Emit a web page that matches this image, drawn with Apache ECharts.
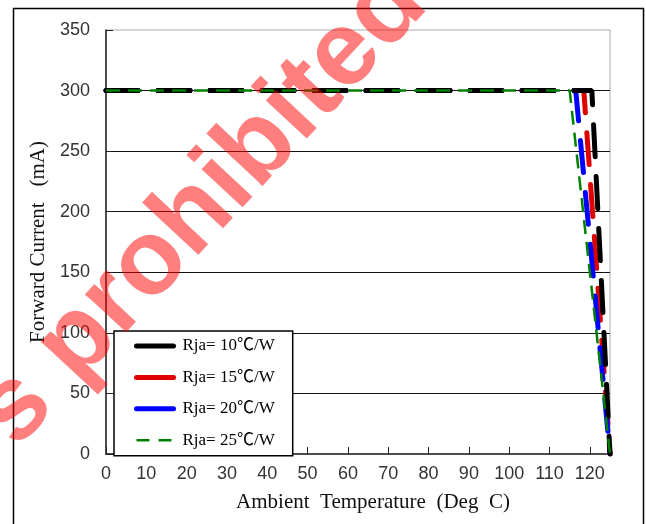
<!DOCTYPE html>
<html>
<head>
<meta charset="utf-8">
<script src="https://cdn.jsdelivr.net/npm/echarts@6/dist/echarts.min.js"></script>
<style>
  html, body { margin: 0; padding: 0; background: #fff; }
  #chart { width: 646px; height: 524px; }
</style>
</head>
<body>
<div id="chart"></div>
<script>
// Derating curves: forward current vs ambient temperature for four Rja values
const seriesNames = ['Rja= 10℃/W', 'Rja= 15℃/W', 'Rja= 20℃/W', 'Rja= 25℃/W'];

// Ambient temperature breakpoints (°C) for each curve
const tempRja10 = [0, 120.5, 125];
const tempRja15 = [0, 118.5, 125];
const tempRja20 = [0, 116.5, 125];
const tempRja25 = [0, 115, 125];

// Forward current (mA) at those breakpoints
const currentMa = [300, 300, 0];

const seriesColors = ['#000000', '#e00000', '#0000ff', '#008000'];
// drawing order: black dashes sit above red and blue, thin green on top
const seriesZ = [4, 2, 3, 5];

const serifFont = "'Liberation Serif', 'Times New Roman', 'Noto Sans CJK SC', serif";
const sansFont = "'Liberation Sans', Arial, sans-serif";

function pairs(xs, ys) {
  return xs.map((x, i) => [x, ys[i]]);
}

const temps = [tempRja10, tempRja15, tempRja20, tempRja25];

const series = temps.map((t, i) => {
  const thinDashed = i === 3;
  return {
    name: seriesNames[i],
    type: 'line',
    data: pairs(t, currentMa),
    symbol: 'none',
    z: seriesZ[i],
    itemStyle: { color: seriesColors[i] },
    lineStyle: thinDashed
      ? { color: seriesColors[i], width: 2.5, type: [14, 8] }
      : { color: seriesColors[i], width: 5, type: [32, 20], cap: 'round' }
  };
});

const legendItems = seriesNames.map((n, i) => (i < 3
  ? { name: n, lineStyle: { type: 'solid', width: 5, cap: 'round' } }
  : { name: n, lineStyle: { type: [13, 9], width: 2.5 } }));

const chart = echarts.init(document.getElementById('chart'), null, { renderer: 'canvas' });

chart.setOption({
  animation: false,
  backgroundColor: '#ffffff',
  grid: {
    left: 106, right: 36, top: 30, bottom: 70,
    show: true, borderColor: '#aaaaaa', borderWidth: 1
  },
  xAxis: {
    type: 'value',
    min: 0, max: 125, interval: 10,
    name: 'Ambient  Temperature  (Deg  C)',
    nameLocation: 'middle',
    nameGap: 38,
    nameTextStyle: { fontFamily: serifFont, fontSize: 21, color: '#111', padding: [0, 0, 0, 30] },
    axisLine: { lineStyle: { color: '#222', width: 1.5 } },
    axisTick: { inside: true, length: 7, lineStyle: { color: '#222' } },
    axisLabel: {
      margin: 11, fontSize: 18, color: '#333', fontFamily: sansFont,
      showMaxLabel: false,
      formatter: v => (v % 10 === 0 ? String(v) : '')
    },
    splitLine: { show: false }
  },
  yAxis: {
    type: 'value',
    min: 0, max: 350, interval: 50,
    name: 'Forward Current   (mA)',
    nameLocation: 'middle',
    nameGap: 45,
    nameRotate: 90,
    nameTextStyle: { fontFamily: serifFont, fontSize: 21, color: '#111' },
    axisLine: { show: true, lineStyle: { color: '#222', width: 1.5 } },
    axisTick: { show: true, inside: true, length: 7, lineStyle: { color: '#222' } },
    axisLabel: { margin: 16, fontSize: 18, color: '#333', fontFamily: sansFont },
    splitLine: {
      show: true, showMinLine: false, showMaxLine: false,
      lineStyle: { color: '#111', width: 1 }
    }
  },
  legend: {
    orient: 'vertical',
    left: 114, top: 331,
    backgroundColor: '#ffffff',
    borderColor: '#000', borderWidth: 1.5,
    borderRadius: 0,
    padding: [6.5, 18, 7, 20],
    itemWidth: 37, itemHeight: 14, itemGap: 14.4,
    itemStyle: { opacity: 0 },
    textStyle: { fontFamily: serifFont, fontSize: 17, color: '#000', padding: [0, 0, 0, 4] },
    data: legendItems
  },
  graphic: [
    {
      type: 'rect',
      silent: true,
      shape: { x: 13.5, y: 8.5, width: 630, height: 540 },
      style: { fill: 'transparent', stroke: '#000', lineWidth: 1.5 },
      z: 50
    },
    {
      type: 'text',
      silent: true,
      x: 202, y: 208,
      rotation: 47 * Math.PI / 180,
      style: {
        text: 's prohibited',
        font: "bold 106px 'Liberation Sans', Arial, sans-serif",
        fill: 'rgba(255,0,0,0.5)',
        align: 'center',
        verticalAlign: 'middle'
      },
      z: 100
    }
  ],
  series: series
});
</script>
</body>
</html>
